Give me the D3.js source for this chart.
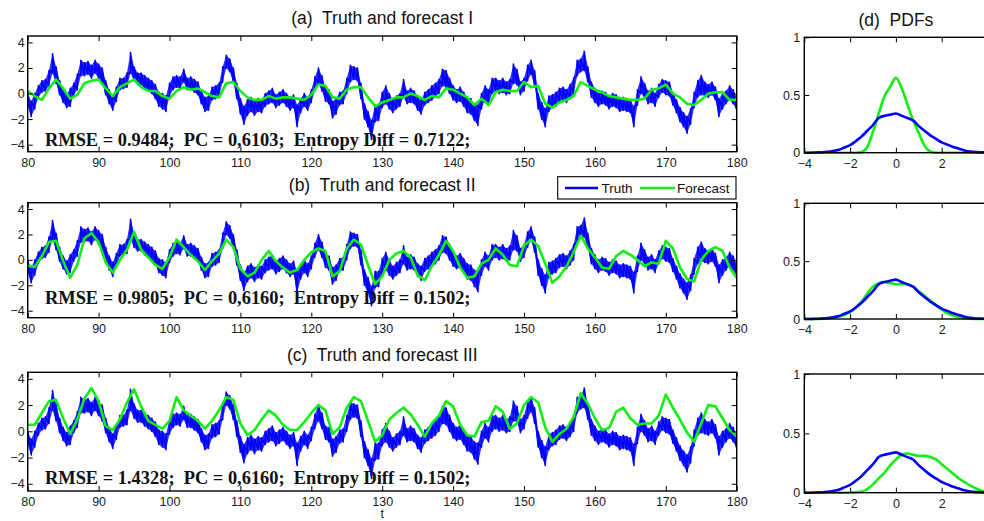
<!DOCTYPE html>
<html>
<head>
<meta charset="utf-8">
<script src="https://cdn.jsdelivr.net/npm/d3@7"></script>
<style>
  html, body { margin: 0; padding: 0; background: #fff; overflow: hidden; }
  svg { display: block; }
  .tick text { font-family: "Liberation Sans", Arial, Helvetica, sans-serif; font-size: 12.5px; fill: #1a1a1a; }
</style>
</head>
<body>
<svg id="fig" width="984" height="521"></svg>
<script>
// ---------- time-series data (t = 80 … 180) ----------
const truthStart = 80, truthStep = 0.5;
// lower / upper envelope of the noisy truth signal, every 0.5 time units
const truthLo = [
  -1.0,-1.8,-1.2,-0.3,0.1,0.2,0.6,1.6,0.8,-0.1,
  -0.7,-1.1,-1.0,-0.1,0.3,1.4,1.4,1.5,1.2,1.6,
  1.2,0.8,-0.1,-0.8,-1.3,-0.6,0.3,0.4,0.5,1.6,
  1.0,0.7,0.7,0.4,0.2,0.0,-0.4,-1.0,-1.2,-1.4,
  -0.2,0.3,0.5,0.4,0.9,0.3,0.3,0.1,-0.1,-0.8,
  -1.4,-1.3,-0.5,-0.4,-0.2,0.9,2.0,1.7,0.9,-0.4,
  -1.6,-2.4,-1.7,-1.4,-1.7,-1.4,-1.5,-1.0,-0.8,-0.7,
  -1.1,-0.9,-0.7,-1.0,-1.3,-1.1,-2.6,-1.5,-1.0,-1.3,
  -0.7,0.2,0.8,0.2,-0.6,-0.8,-1.9,-1.6,-0.9,-0.8,
  0.0,0.9,1.1,1.0,-0.4,-2.0,-2.6,-3.6,-2.2,-2.1,
  -1.1,-0.8,-1.2,-1.5,-1.2,-1.0,-0.3,-0.8,-0.7,-0.8,
  -1.3,-1.6,-0.9,-0.7,-0.5,-0.3,0.0,0.6,0.5,0.0,
  -0.5,-0.7,-0.6,-1.0,-1.5,-1.6,-2.1,-2.5,-1.2,-0.5,
  -0.8,0.0,0.2,0.0,0.1,-0.1,0.0,0.8,0.7,-0.1,
  0.2,1.0,1.5,0.6,-1.2,-2.0,-2.6,-1.4,-1.1,-1.0,
  -0.6,-0.5,-0.7,-0.4,0.0,1.4,1.7,1.8,0.9,-0.3,
  -0.7,-1.0,-0.8,-0.9,-1.2,-1.0,-1.1,-1.4,-1.3,-1.4,
  -1.5,-2.6,-0.9,0.0,-0.3,-0.8,-0.7,-1.0,-0.3,0.1,
  -0.1,-0.2,-0.9,-1.5,-2.2,-2.6,-3.1,-2.4,-1.1,-0.3,
  -0.1,-0.2,-0.3,-0.1,-0.5,-1.8,-1.2,-0.8,-0.5,-0.8,
  -1.3
];
const truthHi = [
  0.0,-0.6,0.0,0.6,1.0,1.1,1.8,3.1,2.1,1.0,
  0.3,-0.1,0.4,0.8,1.5,2.6,2.4,2.5,2.2,2.6,
  2.3,2.0,1.0,0.3,-0.2,0.5,1.2,1.2,1.6,3.2,
  2.1,1.6,1.6,1.4,1.2,1.0,0.7,0.1,0.0,-0.2,
  0.8,1.3,1.4,1.3,1.9,1.2,1.3,1.1,0.9,0.2,
  -0.3,-0.2,0.5,0.6,0.8,2.1,3.0,2.7,2.0,0.8,
  -0.4,-1.0,-0.5,-0.3,-0.6,-0.4,-0.5,0.0,0.2,0.4,
  -0.1,0.1,0.3,0.0,-0.3,-0.1,-0.9,-0.4,0.0,-0.3,
  0.3,1.3,2.0,1.4,0.4,0.3,-0.6,-0.4,0.1,0.2,
  1.2,2.2,2.1,2.0,0.8,-0.8,-1.4,-2.1,-0.9,-0.9,
  0.1,0.6,0.0,-0.5,-0.2,0.0,1.1,0.2,0.4,0.2,
  -0.3,-0.5,0.1,0.3,0.6,0.8,1.1,1.9,1.8,1.2,
  0.6,0.3,0.5,0.1,-0.3,-0.4,-0.8,-0.9,0.0,0.6,
  0.3,1.2,1.2,1.0,1.2,0.9,1.1,2.3,1.9,0.9,
  1.2,2.2,2.6,1.8,0.0,-0.7,-1.2,-0.2,-0.1,0.1,
  0.4,0.5,0.3,0.7,1.2,2.6,2.7,3.3,2.1,0.9,
  0.4,0.0,0.2,0.1,-0.2,0.0,-0.1,-0.4,-0.3,-0.4,
  -0.5,-1.0,0.3,1.3,0.8,0.2,0.4,0.0,0.7,1.1,
  1.0,0.9,0.1,-0.5,-1.1,-1.5,-1.8,-1.2,0.1,1.0,
  1.4,0.9,0.7,0.9,0.5,-0.4,0.0,0.2,0.6,0.3,
  -0.3
];

// forecasts, one value per time unit
const forecastStart = 80, forecastStep = 1;
const forecastI = [
  0.2,-0.2,-0.5,0.4,1.1,0.4,-0.4,-0.1,0.8,1.0,
  1.1,0.4,-0.2,0.5,0.8,1.1,0.5,0.2,0.2,-0.2,
  -0.4,0.2,0.5,0.3,0.4,0.1,-0.2,-0.3,0.8,0.9,
  0.2,-0.3,-0.5,-0.5,-0.2,-0.4,-0.3,-0.3,-0.4,-0.5,
  -0.1,0.7,0.6,-0.3,-0.4,0.3,0.5,0.5,-0.3,-1.0,
  -0.7,-0.5,-0.3,-0.3,0.0,-0.2,-0.5,-0.2,-0.3,0.4,
  0.3,0.0,-0.3,-0.9,-0.4,-0.9,0.1,0.3,0.2,0.2,
  0.9,0.5,0.6,-0.8,-1.1,-0.7,-0.5,-0.2,0.9,0.6,
  0.3,0.1,-0.2,-0.3,-0.4,-0.5,-0.5,-0.4,0.3,0.4,
  0.7,0.0,-0.3,-0.8,-0.9,-0.5,0.0,0.1,0.1,-0.5,
  -0.5
];
const forecastII = [
  -0.45,-0.55,0.3,1.4,1.5,-0.1,-1.4,-0.4,1.7,2.1,
  1.4,-0.2,-1.0,0.0,0.8,2.2,0.8,0.2,-0.4,-0.7,
  0.2,1.6,1.0,0.4,-0.1,-0.8,-0.1,0.5,1.6,1.0,
  -0.7,-1.3,-1.0,0.0,0.7,-0.1,-0.6,-1.0,-0.8,0.0,
  0.6,0.9,0.7,-1.3,-0.9,0.9,1.6,1.2,-0.4,-1.9,
  -1.3,0.0,0.5,0.7,0.2,-1.2,-1.6,-0.5,0.4,1.5,
  0.7,-0.6,-1.4,-1.3,-0.3,0.0,0.9,0.4,-0.4,-0.5,
  1.1,1.6,1.1,-0.3,-1.8,-1.3,-0.5,0.6,1.9,0.9,
  0.2,-0.6,-0.7,0.3,0.7,0.4,0.0,-0.5,-0.2,-0.3,
  1.5,0.9,-0.6,-1.5,-1.7,0.0,0.7,1.0,0.7,-0.6,
  -1.4
];
const forecastIII = [
  0.5,0.5,1.4,2.3,2.4,1.0,-0.2,0.9,2.5,3.3,
  2.3,0.4,0.1,0.9,2.2,3.2,1.9,0.8,0.5,0.2,
  0.8,2.6,1.6,1.2,0.8,0.2,0.8,1.6,2.6,2.4,
  0.6,-0.3,0.1,0.9,1.6,1.2,0.5,0.1,0.1,0.7,
  1.4,2.0,1.6,-0.2,0.3,1.8,2.6,2.3,0.8,-0.8,
  -0.3,0.9,1.4,1.8,1.3,0.5,-0.4,0.6,1.2,2.3,
  1.9,0.5,-0.3,-0.4,0.7,0.8,1.9,1.5,0.2,0.6,
  2.0,2.6,2.2,0.3,-0.8,-0.2,0.2,1.1,2.9,2.1,
  1.0,0.1,0.25,1.5,1.8,1.0,0.5,0.6,0.6,1.2,
  2.8,1.8,0.9,-0.1,-0.8,0.6,2.0,1.9,1.0,0.1,
  -0.4
];

const panelTitles = ["(a)  Truth and forecast I", "(b)  Truth and forecast II", "(c)  Truth and forecast III"];
const statLabels = [
  "RMSE = 0.9484;  PC = 0,6103;  Entropy Diff = 0.7122;",
  "RMSE = 0.9805;  PC = 0,6160;  Entropy Diff = 0.1502;",
  "RMSE = 1.4328;  PC = 0,6160;  Entropy Diff = 0.1502;"
];
const timeTicks = [80, 90, 100, 110, 120, 130, 140, 150, 160, 170, 180];
const valueTicks = [-4, -2, 0, 2, 4];

// ---------- PDF data (x = -4 … 4, step 0.25) ----------
const pdfStart = -4, pdfStep = 0.25;
const truthPdf = [
  0.0,0.0,0.002,0.004,0.008,0.015,0.025,0.045,0.065,0.10,
  0.14,0.19,0.24,0.30,0.32,0.33,0.34,0.32,0.30,0.28,
  0.23,0.19,0.15,0.12,0.09,0.07,0.05,0.035,0.02,0.01,
  0.005,0.003,0.002
];
const forecastPdfI = [
  0,0,0,0,0,0,0,0,0,0,
  0.005,0.05,0.18,0.34,0.49,0.57,0.65,0.56,0.42,0.28,
  0.17,0.06,0.01,0,0,0,0,0,0,0,
  0,0,0
];
const forecastPdfII = [
  0,0,0,0.002,0.005,0.01,0.02,0.035,0.06,0.10,
  0.15,0.22,0.28,0.31,0.32,0.31,0.30,0.30,0.30,0.28,
  0.24,0.20,0.16,0.12,0.08,0.05,0.03,0.015,0.007,0.003,
  0.001,0,0
];
const forecastPdfIII = [
  0,0,0,0,0,0,0,0,0.002,0.005,
  0.01,0.03,0.07,0.12,0.17,0.23,0.28,0.32,0.33,0.32,
  0.31,0.31,0.30,0.28,0.24,0.20,0.16,0.12,0.09,0.06,
  0.035,0.015,0.005
];
const pdfTitle = "(d)  PDFs";
const pdfXTicks = [-4, -2, 0, 2];
const pdfYTicks = [0, 0.5, 1];
const legendLabels = ["Truth", "Forecast"];

// ---------- drawing ----------
const BLUE = "#0000ff", GREEN = "#11ee11";
const sans = '"Liberation Sans", Arial, Helvetica, sans-serif';
const serif = '"Liberation Serif", "Times New Roman", serif';
const svg = d3.select("#fig");
const fmt = d => String(d).replace("-", "\u2212");

const tsLayout = [
  { top: 36,    bottom: 151.7, titleY: 23.5,  statsY: 146 },
  { top: 202.7, bottom: 317.7, titleY: 190.7, statsY: 303.5 },
  { top: 372.3, bottom: 491,   titleY: 360.7, statsY: 484 }
];
const pdfLayout = [
  { top: 37.3,  bottom: 152.7 },
  { top: 203.3, bottom: 319 },
  { top: 374,   bottom: 492.7 }
];
const forecasts = [forecastI, forecastII, forecastIII];
const forecastPdfs = [forecastPdfI, forecastPdfII, forecastPdfIII];

// min/max pairs of the truth signal: envelope + decimated trace (low, then high, per sample)
const truthPts = truthLo.map((lo, i) => ({ t: truthStart + i * truthStep, lo, hi: truthHi[i] }));
const truthTrace = truthPts.flatMap(d => [{ t: d.t, v: d.lo }, { t: d.t, v: d.hi }]);

const x = d3.scaleLinear().domain([80, 180]).range([27.7, 736.7]);
const xp = d3.scaleLinear().domain([-4, 4]).range([804.3, 987.5]);

function frameAxes(g, xs, ys, xTicks, yTicks, top, bottom, left, right, lpad, showRight) {
  const ax = g.append("g").attr("transform", `translate(0,${bottom})`).style("color", "#000")
    .call(d3.axisBottom(xs).tickValues(xTicks).tickSize(-5).tickPadding(6).tickFormat(fmt));
  ax.select(".domain").remove();
  const at = g.append("g").attr("transform", `translate(0,${top})`).style("color", "#000")
    .call(d3.axisTop(xs).tickValues(xTicks).tickSize(-5).tickFormat(""));
  at.select(".domain").remove();
  const al = g.append("g").attr("transform", `translate(${left},0)`).style("color", "#000")
    .call(d3.axisLeft(ys).tickValues(yTicks).tickSize(-5).tickPadding(lpad).tickFormat(fmt));
  al.select(".domain").remove();
  if (showRight) {
    const ar = g.append("g").attr("transform", `translate(${right},0)`).style("color", "#000")
      .call(d3.axisRight(ys).tickValues(yTicks).tickSize(-5).tickFormat(""));
    ar.select(".domain").remove();
  }
  g.selectAll(".tick line").attr("stroke-width", 1);
  g.append("rect").attr("x", left).attr("y", top).attr("width", right - left).attr("height", bottom - top)
    .attr("fill", "none").attr("stroke", "#000").attr("stroke-width", 1.4);
}

tsLayout.forEach((L, k) => {
  const g = svg.append("g");
  const y = d3.scaleLinear().domain([-4.55, 4.5]).range([L.bottom, L.top]);
  const clipId = "clip" + k;
  svg.append("clipPath").attr("id", clipId).append("rect")
    .attr("x", x.range()[0]).attr("y", L.top).attr("width", x.range()[1] - x.range()[0]).attr("height", L.bottom - L.top);
  const plot = g.append("g").attr("clip-path", `url(#${clipId})`);

  // truth: envelope fill, then the min/max trace on top
  plot.append("path").datum(truthPts)
    .attr("d", d3.area().x(d => x(d.t)).y0(d => y(d.lo)).y1(d => y(d.hi)))
    .attr("fill", BLUE).attr("fill-opacity", 0.82);
  plot.append("path").datum(truthTrace)
    .attr("d", d3.line().x(d => x(d.t)).y(d => y(d.v)))
    .attr("fill", "none").attr("stroke", BLUE).attr("stroke-width", 1.6).attr("stroke-linejoin", "round");

  // forecast
  plot.append("path").datum(forecasts[k])
    .attr("d", d3.line().x((v, i) => x(forecastStart + i * forecastStep)).y(v => y(v)))
    .attr("fill", "none").attr("stroke", GREEN).attr("stroke-width", 2.6).attr("stroke-linejoin", "round");

  frameAxes(g, x, y, timeTicks, valueTicks, L.top, L.bottom, x.range()[0], x.range()[1], 3, true);

  g.append("text").attr("x", (x.range()[0] + x.range()[1]) / 2).attr("y", L.titleY)
    .attr("text-anchor", "middle").style("white-space", "pre")
    .attr("font-family", sans).attr("font-size", 17.5).attr("fill", "#111")
    .text(panelTitles[k]);

  g.append("text").attr("x", 45).attr("y", L.statsY).style("white-space", "pre")
    .attr("font-family", serif).attr("font-weight", "bold").attr("font-size", 18.4).attr("fill", "#111")
    .text(statLabels[k]);
});

// x-axis label
svg.append("text").attr("x", x(130)).attr("y", 518).attr("text-anchor", "middle")
  .attr("font-family", sans).attr("font-size", 12.5).attr("fill", "#1a1a1a").text("t");

// legend
const leg = svg.append("g");
leg.append("rect").attr("x", 557.7).attr("y", 176.7).attr("width", 178.3).attr("height", 22.3)
  .attr("fill", "#fff").attr("stroke", "#000").attr("stroke-width", 1.1);
[[565, 598, 601.5, BLUE], [640, 675, 677, GREEN]].forEach((s, i) => {
  leg.append("line").attr("x1", s[0]).attr("x2", s[1]).attr("y1", 188).attr("y2", 188)
    .attr("stroke", s[3]).attr("stroke-width", 2.6);
  leg.append("text").attr("x", s[2]).attr("y", 193).attr("font-family", sans).attr("font-size", 13.5)
    .attr("fill", "#111").text(legendLabels[i]);
});

// PDF panels
pdfLayout.forEach((L, k) => {
  const g = svg.append("g");
  const y = d3.scaleLinear().domain([0, 1]).range([L.bottom, L.top]);
  const line = d3.line().x((v, i) => xp(pdfStart + i * pdfStep)).y(v => y(v)).curve(d3.curveMonotoneX);
  g.append("path").datum(forecastPdfs[k]).attr("d", line)
    .attr("fill", "none").attr("stroke", GREEN).attr("stroke-width", 2.6);
  g.append("path").datum(truthPdf).attr("d", line)
    .attr("fill", "none").attr("stroke", BLUE).attr("stroke-width", 2.6);
  frameAxes(g, xp, y, pdfXTicks, pdfYTicks, L.top, L.bottom, xp.range()[0], xp.range()[1], 4, false);
  if (k === 0) {
    g.append("text").attr("x", xp(0)).attr("y", 25.5).attr("text-anchor", "middle").style("white-space", "pre")
      .attr("font-family", sans).attr("font-size", 17.5).attr("fill", "#111").text(pdfTitle);
  }
});
</script>
</body>
</html>
